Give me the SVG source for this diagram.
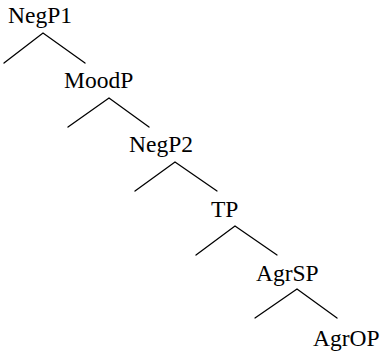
<svg xmlns="http://www.w3.org/2000/svg" width="384" height="352" viewBox="0 0 384 352">
<style>
text{font-family:"Liberation Serif","Times New Roman",serif;font-size:23.5px;fill:#000}
.e{stroke:#000;stroke-width:1.3;fill:none;stroke-linecap:round}
</style>
<rect width="384" height="352" fill="#fff"/>
<g id="NegP1"><text x="8" y="23">NegP1</text></g>
<g id="MoodP"><text x="64" y="88">MoodP</text></g>
<g id="NegP2"><text x="129" y="152">NegP2</text></g>
<g id="TP"><text x="211" y="217">TP</text></g>
<g id="AgrSP"><text x="256" y="281">AgrSP</text></g>
<g id="AgrOP"><text x="313" y="346">AgrOP</text></g>
<g id="connectors">
<polyline class="e" points="4,63 43,33 85,63"/>
<polyline class="e" points="68,127 109,98 149,127"/>
<polyline class="e" points="135,191 175,162 217,191"/>
<polyline class="e" points="196,255 235,226 277,255"/>
<polyline class="e" points="255,318 297,289 337,318"/>
</g>
</svg>
